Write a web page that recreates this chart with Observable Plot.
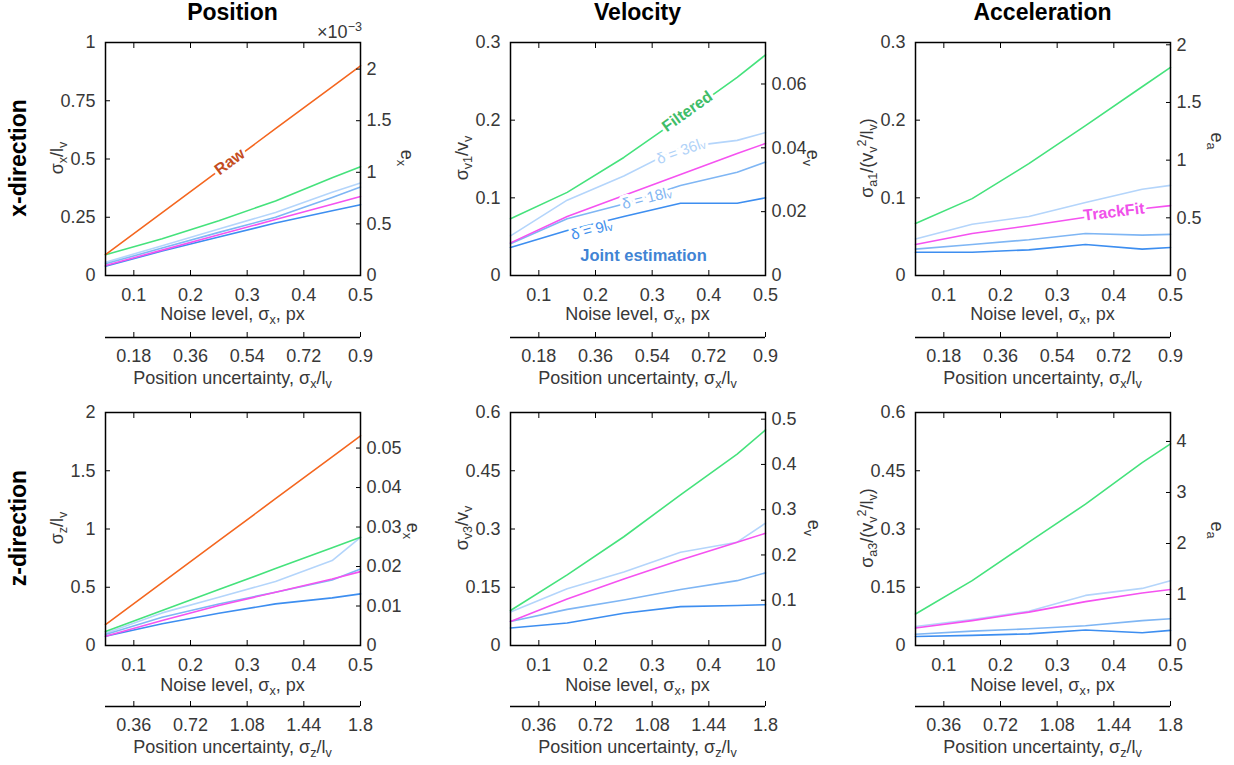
<!DOCTYPE html>
<html>
<head>
<meta charset="utf-8">
<script src="https://cdn.jsdelivr.net/npm/d3@7"></script>
<script src="https://cdn.jsdelivr.net/npm/@observablehq/plot@0.6"></script>
<style>
  body { margin: 0; background: #fff; }
  #fig { position: relative; width: 1234px; height: 765px; overflow: hidden; background: #fff;
         font-family: "Liberation Sans", Arial, sans-serif; }
  .t { position: absolute; white-space: nowrap; font-size: 18px; color: #383838; line-height: 1; }
  .c { transform: translate(-50%, -50%); }
  .l { transform: translate(-50%, -50%) rotate(-90deg); }
  .r { transform: translate(-50%, -50%) rotate(90deg); }
  .re { transform: translate(-100%, -50%); }
  .b { font-weight: bold; color: #000; font-size: 23px; }
  sub { font-size: 70%; vertical-align: -0.3em; line-height: 0; }
  sup { font-size: 70%; vertical-align: 0.55em; line-height: 0; }
  svg { position: absolute; }
</style>
</head>
<body>
<div id="fig"></div>
<script>
// ---------------- data ----------------
const noise = [0.05, 0.15, 0.25, 0.35, 0.45, 0.5];
const noiseTicks = [0.1, 0.2, 0.3, 0.4, 0.5];
const noiseTickLabels = ["0.1", "0.2", "0.3", "0.4", "0.5"];
const noiseTickLabelsVelZ = ["0.1", "0.2", "0.3", "0.4", "10"];
const uncertTicksX = [0.18, 0.36, 0.54, 0.72, 0.9];
const uncertTickLabelsX = ["0.18", "0.36", "0.54", "0.72", "0.9"];
const uncertTicksZ = [0.36, 0.72, 1.08, 1.44, 1.8];
const uncertTickLabelsZ = ["0.36", "0.72", "1.08", "1.44", "1.8"];

// Position, x-direction (sigma_x / l_v)
const posX_raw      = [0.09, 0.27, 0.45, 0.63, 0.81, 0.90];
const posX_filtered = [0.089, 0.158, 0.235, 0.32, 0.42, 0.467];
const posX_d36      = [0.057, 0.128, 0.20, 0.27, 0.357, 0.397];
const posX_d18      = [0.05, 0.118, 0.185, 0.25, 0.335, 0.38];
const posX_d9       = [0.04, 0.105, 0.165, 0.225, 0.278, 0.304];
const posX_trackfit = [0.043, 0.109, 0.175, 0.24, 0.306, 0.339];
// Velocity, x-direction
const velX_filtered = [0.073, 0.107, 0.152, 0.203, 0.255, 0.284];
const velX_d36      = [0.051, 0.097, 0.128, 0.165, 0.174, 0.184];
const velX_d18      = [0.041, 0.073, 0.092, 0.116, 0.133, 0.146];
const velX_d9       = [0.036, 0.058, 0.076, 0.093, 0.093, 0.100];
const velX_trackfit = [0.042, 0.076, 0.103, 0.13, 0.157, 0.170];
// Acceleration, x-direction
const accX_filtered = [0.067, 0.099, 0.144, 0.193, 0.243, 0.268];
const accX_d36      = [0.047, 0.066, 0.076, 0.094, 0.111, 0.116];
const accX_d18      = [0.034, 0.040, 0.046, 0.054, 0.052, 0.053];
const accX_d9       = [0.030, 0.030, 0.033, 0.040, 0.034, 0.036];
const accX_trackfit = [0.040, 0.054, 0.064, 0.075, 0.086, 0.090];
// Position, z-direction
const posZ_raw      = [0.18, 0.54, 0.90, 1.26, 1.62, 1.80];
const posZ_filtered = [0.12, 0.30, 0.48, 0.66, 0.84, 0.93];
const posZ_d36      = [0.106, 0.28, 0.414, 0.549, 0.729, 0.929];
const posZ_d18      = [0.094, 0.243, 0.357, 0.457, 0.563, 0.657];
const posZ_d9       = [0.08, 0.186, 0.277, 0.357, 0.409, 0.443];
const posZ_trackfit = [0.08, 0.214, 0.343, 0.457, 0.571, 0.634];
// Velocity, z-direction
const velZ_filtered = [0.09, 0.182, 0.28, 0.388, 0.493, 0.555];
const velZ_d36      = [0.086, 0.146, 0.189, 0.24, 0.266, 0.315];
const velZ_d18      = [0.062, 0.093, 0.117, 0.144, 0.167, 0.187];
const velZ_d9       = [0.045, 0.058, 0.083, 0.10, 0.103, 0.105];
const velZ_trackfit = [0.062, 0.12, 0.171, 0.22, 0.266, 0.289];
// Acceleration, z-direction
const accZ_filtered = [0.081, 0.167, 0.266, 0.364, 0.471, 0.519];
const accZ_d36      = [0.049, 0.067, 0.088, 0.129, 0.147, 0.167];
const accZ_d18      = [0.029, 0.037, 0.043, 0.051, 0.064, 0.069];
const accZ_d9       = [0.023, 0.026, 0.030, 0.040, 0.033, 0.039];
const accZ_trackfit = [0.045, 0.064, 0.086, 0.113, 0.135, 0.144];

// axis ticks & labels
const leftTicksPosX = [0, 0.25, 0.5, 0.75, 1];     const leftLabelsPosX = ["0", "0.25", "0.5", "0.75", "1"];
const leftTicksVelX = [0, 0.1, 0.2, 0.3];          const leftLabelsVelX = ["0", "0.1", "0.2", "0.3"];
const leftTicksAccX = [0, 0.1, 0.2, 0.3];          const leftLabelsAccX = ["0", "0.1", "0.2", "0.3"];
const leftTicksPosZ = [0, 0.5, 1, 1.5, 2];         const leftLabelsPosZ = ["0", "0.5", "1", "1.5", "2"];
const leftTicksVelZ = [0, 0.15, 0.3, 0.45, 0.6];   const leftLabelsVelZ = ["0", "0.15", "0.3", "0.45", "0.6"];
const leftTicksAccZ = [0, 0.15, 0.3, 0.45, 0.6];   const leftLabelsAccZ = ["0", "0.15", "0.3", "0.45", "0.6"];
const rightTicksPosX = [0, 0.5, 1, 1.5, 2];        const rightLabelsPosX = ["0", "0.5", "1", "1.5", "2"];
const rightTicksVelX = [0, 0.02, 0.04, 0.06];      const rightLabelsVelX = ["0", "0.02", "0.04", "0.06"];
const rightTicksAccX = [0, 0.5, 1, 1.5, 2];        const rightLabelsAccX = ["0", "0.5", "1", "1.5", "2"];
const rightTicksPosZ = [0, 0.01, 0.02, 0.03, 0.04, 0.05]; const rightLabelsPosZ = ["0", "0.01", "0.02", "0.03", "0.04", "0.05"];
const rightTicksVelZ = [0, 0.1, 0.2, 0.3, 0.4, 0.5];      const rightLabelsVelZ = ["0", "0.1", "0.2", "0.3", "0.4", "0.5"];
const rightTicksAccZ = [0, 1, 2, 3, 4];                   const rightLabelsAccZ = ["0", "1", "2", "3", "4"];

const colors = {
  raw: "#f4661f", filtered: "#45e27c", d36: "#b4d5fb", d18: "#7fb6f4", d9: "#3d8ef0", trackfit: "#f552f0"
};

// ---------------- layout helpers ----------------
const fig = document.getElementById("fig");
const FONT = '"Liberation Sans", Arial, sans-serif';
const COLW = 405, FL = 105, FR = 45;

function label(html, cls, x, y) {
  const d = document.createElement("div");
  d.className = "t " + cls;
  d.innerHTML = html;
  d.style.left = x + "px";
  d.style.top = y + "px";
  fig.appendChild(d);
}

function seriesOf(lines) {
  return lines.map(([key, values]) => ({key, values}));
}

const panels = [
  { row: 0, col: 0, yMax: 1, rightMax: 2.258,
    leftTicks: leftTicksPosX, leftLabels: leftLabelsPosX, rightTicks: rightTicksPosX, rightLabels: rightLabelsPosX,
    xLabels: noiseTickLabels,
    lines: seriesOf([["d36", posX_d36], ["d18", posX_d18], ["d9", posX_d9], ["trackfit", posX_trackfit], ["filtered", posX_filtered], ["raw", posX_raw]]),
    annotations: [
      {parts: [["Raw"]], x: 0.269, y: 0.489, angle: -36.5, color: "#c44d1e", bold: true, size: 16}
    ]},
  { row: 0, col: 1, yMax: 0.3, rightMax: 0.073,
    leftTicks: leftTicksVelX, leftLabels: leftLabelsVelX, rightTicks: rightTicksVelX, rightLabels: rightLabelsVelX,
    xLabels: noiseTickLabels,
    lines: seriesOf([["d36", velX_d36], ["d18", velX_d18], ["d9", velX_d9], ["trackfit", velX_trackfit], ["filtered", velX_filtered]]),
    annotations: [
      {parts: [["Filtered"]], x: 0.362, y: 0.2115, angle: -35.5, color: "#3fbd68", bold: true, size: 16},
      {parts: [["δ = 36l"], ["v", "sub"]], x: 0.351, y: 0.161, angle: -20, color: "#b0d2f8", bold: false, size: 15},
      {parts: [["δ = 18l"], ["v", "sub"]], x: 0.291, y: 0.1004, angle: -14.5, color: "#82b6f2", bold: false, size: 15},
      {parts: [["δ = 9l"], ["v", "sub"]], x: 0.1935, y: 0.0595, angle: -15, color: "#4190ec", bold: false, size: 15},
      {parts: [["Joint estimation"]], x: 0.2856, y: 0.0258, angle: 0, color: "#4184d4", bold: true, size: 16.5}
    ]},
  { row: 0, col: 2, yMax: 0.3, rightMax: 2.02,
    leftTicks: leftTicksAccX, leftLabels: leftLabelsAccX, rightTicks: rightTicksAccX, rightLabels: rightLabelsAccX,
    xLabels: noiseTickLabels,
    lines: seriesOf([["d36", accX_d36], ["d18", accX_d18], ["d9", accX_d9], ["trackfit", accX_trackfit], ["filtered", accX_filtered]]),
    annotations: [
      {parts: [["TrackFit"]], x: 0.4008, y: 0.0822, angle: -7, color: "#f050ea", bold: true, size: 16}
    ]},
  { row: 1, col: 0, yMax: 2, rightMax: 0.059,
    leftTicks: leftTicksPosZ, leftLabels: leftLabelsPosZ, rightTicks: rightTicksPosZ, rightLabels: rightLabelsPosZ,
    xLabels: noiseTickLabels,
    lines: seriesOf([["d36", posZ_d36], ["d18", posZ_d18], ["d9", posZ_d9], ["trackfit", posZ_trackfit], ["filtered", posZ_filtered], ["raw", posZ_raw]]),
    annotations: []},
  { row: 1, col: 1, yMax: 0.6, rightMax: 0.5147,
    leftTicks: leftTicksVelZ, leftLabels: leftLabelsVelZ, rightTicks: rightTicksVelZ, rightLabels: rightLabelsVelZ,
    xLabels: noiseTickLabelsVelZ,
    lines: seriesOf([["d36", velZ_d36], ["d18", velZ_d18], ["d9", velZ_d9], ["trackfit", velZ_trackfit], ["filtered", velZ_filtered]]),
    annotations: []},
  { row: 1, col: 2, yMax: 0.6, rightMax: 4.568,
    leftTicks: leftTicksAccZ, leftLabels: leftLabelsAccZ, rightTicks: rightTicksAccZ, rightLabels: rightLabelsAccZ,
    xLabels: noiseTickLabels,
    lines: seriesOf([["d36", accZ_d36], ["d18", accZ_d18], ["d9", accZ_d9], ["trackfit", accZ_trackfit], ["filtered", accZ_filtered]]),
    annotations: []}
];

const rowTop = [0, 370];
const secTop = [327, 696];

function annotationText(g, a, sx, sy, halo) {
  const t = g.append("text")
    .attr("transform", `translate(${sx(a.x)},${sy(a.y)}) rotate(${a.angle})`)
    .attr("text-anchor", "middle")
    .attr("dominant-baseline", "central")
    .attr("font-family", FONT)
    .attr("font-size", a.size)
    .attr("font-weight", a.bold ? "bold" : "normal")
    .attr("fill", halo ? "#fff" : a.color);
  if (halo) t.attr("stroke", "#fff").attr("stroke-width", 6).attr("stroke-linejoin", "round");
  for (const [txt, kind] of a.parts) {
    const ts = t.append("tspan").text(txt);
    if (kind === "sub") ts.attr("dy", "0.3em").attr("font-size", a.size * 0.7);
  }
}

function mainPlot(p) {
  const k = p.yMax / p.rightMax;
  const rightPos = p.rightTicks.map(t => t * k);
  const rightMap = new Map(rightPos.map((v, i) => [v, p.rightLabels[i]]));
  const leftMap = new Map(p.leftTicks.map((v, i) => [v, p.leftLabels[i]]));
  const xMap = new Map(noiseTicks.map((v, i) => [v, p.xLabels[i]]));
  const marks = p.lines.map(s =>
    Plot.line(s.values, {x: (d, i) => noise[i], y: d => d, stroke: colors[s.key], strokeWidth: 1.6}));
  marks.push(
    Plot.axisX(noiseTicks, {anchor: "bottom", tickSize: -5, tickPadding: 18, tickFormat: d => xMap.get(d),
      stroke: "#000", fill: "#383838", label: null}),
    Plot.axisX(noiseTicks, {anchor: "top", tickSize: -5, tickFormat: () => "", stroke: "#000", label: null}),
    Plot.axisY(p.leftTicks, {anchor: "left", tickSize: -5, tickPadding: 15, tickFormat: d => leftMap.get(d),
      stroke: "#000", fill: "#383838", label: null}),
    Plot.axisY(rightPos, {anchor: "right", tickSize: -5, tickPadding: 11, tickFormat: d => rightMap.get(d),
      stroke: "#000", fill: "#383838", label: null}),
    Plot.frame({stroke: "#000", strokeWidth: 1.5})
  );
  const svg = Plot.plot({
    width: COLW, height: 310,
    marginLeft: FL, marginRight: FR, marginTop: 42, marginBottom: 35,
    style: {background: "transparent", fontFamily: FONT, fontSize: "18px", color: "#000", overflow: "visible"},
    x: {domain: [0.05, 0.5]},
    y: {domain: [0, p.yMax]},
    marks
  });
  const sx = svg.scale("x").apply, sy = svg.scale("y").apply;
  const g = d3.select(svg).append("g");
  for (const a of p.annotations) annotationText(g, a, sx, sy, true);
  for (const a of p.annotations) annotationText(g, a, sx, sy, false);
  svg.style.left = (p.col * COLW) + "px";
  svg.style.top = rowTop[p.row] + "px";
  fig.appendChild(svg);
}

function secondaryAxis(row, col) {
  const ticks = row === 0 ? uncertTicksX : uncertTicksZ;
  const labels = row === 0 ? uncertTickLabelsX : uncertTickLabelsZ;
  const m = new Map(ticks.map((v, i) => [v, labels[i]]));
  const svg = Plot.plot({
    width: COLW, height: 50,
    marginLeft: FL, marginRight: FR, marginTop: 9, marginBottom: 40,
    style: {background: "transparent", fontFamily: FONT, fontSize: "18px", color: "#000", overflow: "visible"},
    x: {domain: row === 0 ? [0.09, 0.9] : [0.18, 1.8]},
    y: {domain: [0, 1], axis: null},
    marks: [
      Plot.ruleY([0], {stroke: "#000", strokeWidth: 1.5}),
      Plot.axisX(ticks, {anchor: "bottom", tickSize: -5, tickPadding: 17, tickFormat: d => m.get(d),
        stroke: "#000", fill: "#383838", label: null})
    ]
  });
  svg.style.left = (col * COLW) + "px";
  svg.style.top = secTop[row] + "px";
  fig.appendChild(svg);
}

panels.forEach(p => { mainPlot(p); secondaryAxis(p.row, p.col); });

// ---------------- text ----------------
const titles = ["Position", "Velocity", "Acceleration"];
const rowLabels = ["x-direction", "z-direction"];
const leftAxisLabels = [
  ["σ<sub>x</sub>/l<sub>v</sub>", "σ<sub>v1</sub>/v<sub>v</sub>", "σ<sub>a1</sub>/(v<sub>v</sub><sup>2</sup>/l<sub>v</sub>)"],
  ["σ<sub>z</sub>/l<sub>v</sub>", "σ<sub>v3</sub>/v<sub>v</sub>", "σ<sub>a3</sub>/(v<sub>v</sub><sup>2</sup>/l<sub>v</sub>)"]
];
const rightAxisLabels = [
  ["e<sub>x</sub>", "e<sub>v</sub>", "e<sub>a</sub>"],
  ["e<sub>x</sub>", "e<sub>v</sub>", "e<sub>a</sub>"]
];
const noiseAxisLabel = "Noise level, σ<sub>x</sub>, px";
const uncertAxisLabels = ["Position uncertainty, σ<sub>x</sub>/l<sub>v</sub>", "Position uncertainty, σ<sub>z</sub>/l<sub>v</sub>"];

const frameCenterX = c => c * COLW + (FL + (COLW - FR)) / 2;
titles.forEach((t, c) => label(t, "b c", frameCenterX(c), 12));
label(rowLabels[0], "b l", 18, 158);
label(rowLabels[1], "b l", 18, 528);

const rightLabelX = [[407, 408, 407], [413, 409, 407]];
const rightLabelY = [[158, 158, 141], [531, 528, 530]];
const frameMidY = [158, 528];
for (let r = 0; r < 2; r++) {
  for (let c = 0; c < 3; c++) {
    label(leftAxisLabels[r][c], "l", c * COLW + 57, frameMidY[r]);
    label(rightAxisLabels[r][c], "r", c * COLW + rightLabelX[r][c], rightLabelY[r][c]);
    label(noiseAxisLabel, "c", frameCenterX(c), r === 0 ? 314 : 685);
    label(uncertAxisLabels[r], "c", frameCenterX(c), r === 0 ? 378 : 747);
  }
}
label("×10<sup>−3</sup>", "re", 362, 32);
</script>
</body>
</html>
